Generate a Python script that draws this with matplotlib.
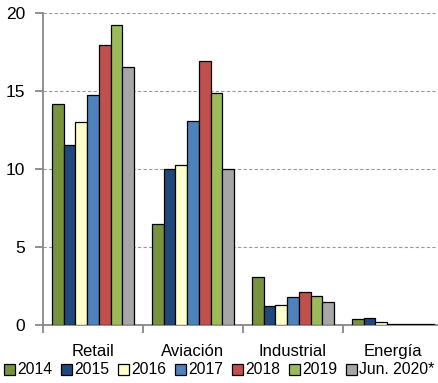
import matplotlib
matplotlib.use("Agg")
import matplotlib.pyplot as plt
from matplotlib.patches import Patch
import numpy as np

categories = ["Retail", "Aviación", "Industrial", "Energía"]
series_names = ["2014", "2015", "2016", "2017", "2018", "2019", "Jun. 2020*"]
v2014 = [14.15, 6.45, 3.1, 0.39]
v2015 = [11.55, 10.0, 1.22, 0.47]
v2016 = [13.0, 10.25, 1.28, 0.17]
v2017 = [14.75, 13.1, 1.78, 0.05]
v2018 = [17.95, 16.9, 2.1, 0.05]
v2019 = [19.2, 14.85, 1.85, 0.05]
v2020 = [16.55, 10.0, 1.47, 0.05]
series = [v2014, v2015, v2016, v2017, v2018, v2019, v2020]
colors = ["#77933C", "#1F497D", "#FFFFCC", "#4F81BD", "#C0504D", "#9BBB59", "#A6A6A6"]

plt.rcParams["font.family"] = ["Liberation Sans", "DejaVu Sans"]

fig = plt.figure(figsize=(4.39, 3.83), dpi=100)
ax = fig.add_axes([43/439, 58/383, 400/439, 312/383])

n = len(series)
group_w = 0.823
bw = group_w / n
x = np.arange(len(categories))
for i, (vals, c) in enumerate(zip(series, colors)):
    ax.bar(x - group_w/2 + bw*(i+0.5), vals, width=bw, color=c,
           edgecolor="black", linewidth=0.9, label=series_names[i], zorder=3)

ax.set_xlim(-0.5, len(categories) - 0.5)
ax.set_ylim(0, 20)
ax.set_yticks([0, 5, 10, 15, 20])
ax.yaxis.grid(True, linestyle=(0, (3, 2)), color="#999999", linewidth=0.8, zorder=0)
for s in ["top", "right"]:
    ax.spines[s].set_visible(False)
for s in ["left", "bottom"]:
    ax.spines[s].set_color("#888888")
    ax.spines[s].set_linewidth(1.3)

ax.set_xticks(x)
ax.set_xticklabels(categories)
ax.set_xticks(np.arange(len(categories) + 1) - 0.5, minor=True)
ax.tick_params(axis="x", which="major", length=0, pad=14, labelsize=12)
ax.tick_params(axis="x", which="minor", length=6, width=1.3, color="#888888")
ax.tick_params(axis="y", length=6, width=1.3, color="#888888", labelsize=12.5, pad=7)

handles = [Patch(facecolor=c, edgecolor="black", linewidth=0.9) for c in colors]
fig.legend(handles, series_names, loc="center", bbox_to_anchor=(0.5, 13/383),
           ncol=n, frameon=False, fontsize=11.3, handlelength=0.7, handleheight=0.7,
           handletextpad=0.15, columnspacing=0.55, borderaxespad=0, borderpad=0)

fig.savefig("out.png", dpi=100)
